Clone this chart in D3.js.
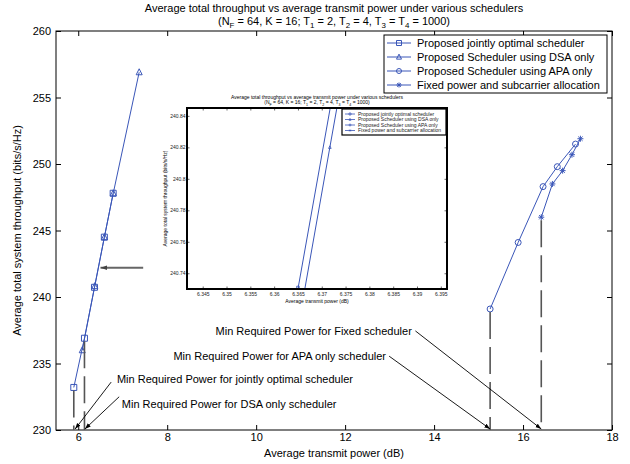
<!DOCTYPE html>
<html><head><meta charset="utf-8">
<script src="https://cdn.jsdelivr.net/npm/d3@7"></script>
<style>body{margin:0;background:#fff}svg{display:block;font-family:Arial,"Liberation Sans",sans-serif}</style>
</head><body><svg id="c" width="630" height="464"></svg>
<script>
// ---------- DATA ----------
const seriesNames = ["Proposed jointly optimal scheduler","Proposed Scheduler using DSA only","Proposed Scheduler using APA only","Fixed power and subcarrier allocation"];
const seriesMarkers = ["square","triangle","circle","star"];
const jointX = [5.90, 6.14, 6.365, 6.587, 6.785];
const jointY = [233.2, 236.9, 240.73, 244.5, 247.8];
const dsaX = [6.09, 6.3717, 6.588, 6.787, 7.37];
const dsaY = [236.0, 240.82, 244.5, 247.8, 256.9];
const apaX = [15.26, 15.89, 16.45, 16.77, 17.18];
const apaY = [239.1, 244.1, 248.3, 249.8, 251.5];
const fixedX = [16.41, 16.66, 16.89, 17.10, 17.29];
const fixedY = [246.0, 248.5, 249.5, 250.7, 251.9];
const xTicks = [6, 8, 10, 12, 14, 16, 18];
const yTicks = [230, 235, 240, 245, 250, 255, 260];
const insetXTicks = [6.345, 6.35, 6.355, 6.36, 6.365, 6.37, 6.375, 6.38, 6.385, 6.39, 6.395];
const insetYTicks = [240.74, 240.76, 240.78, 240.8, 240.82, 240.84];
// min required power markers (dashed drops) : x value, y value of the point
const minPowX = [5.90, 6.14, 15.26, 16.41];
const minPowY = [233.2, 236.9, 239.1, 246.0];
const annTexts = ["Min Required Power for Fixed scheduler","Min Required Power for APA only scheduler","Min Required Power for jointly optimal scheduler","Min Required Power for DSA only scheduler"];
const annTextX = [13.50, 12.92, 6.87, 6.98];
const annTextY = [237.15, 235.3, 233.55, 231.65];
const annAnchor = ["end","end","start","start"];
const annFromX = [13.58, 12.99, 6.74, 6.92];
const annFromY = [237.45, 235.55, 233.6, 232.5];
const annToX = [16.41, 15.26, 5.93, 6.15];

// ---------- LAYOUT ----------
const svg = d3.select("#c");
const M = {l:56, r:612, t:31, b:430};
const x = d3.scaleLinear().domain([5.5, 18]).range([M.l, M.r]);
const y = d3.scaleLinear().domain([230, 260]).range([M.b, M.t]);
const BLUE = "#3a56b8";
const series = [
  {x: jointX, y: jointY}, {x: dsaX, y: dsaY}, {x: apaX, y: apaY}, {x: fixedX, y: fixedY}
].map((s,i)=>({name: seriesNames[i], marker: seriesMarkers[i], pts: s.x.map((v,j)=>[v, s.y[j]])}));

const defs = svg.append("defs");
defs.append("marker").attr("id","ah").attr("viewBox","0 0 10 10").attr("refX",10).attr("refY",5)
  .attr("markerWidth",6).attr("markerHeight",6).attr("markerUnits","userSpaceOnUse").attr("orient","auto")
  .append("path").attr("d","M0,1.5L10,5L0,8.5Z").attr("fill","#000");
defs.append("marker").attr("id","ahg").attr("viewBox","0 0 10 10").attr("refX",10).attr("refY",5)
  .attr("markerWidth",7).attr("markerHeight",7).attr("markerUnits","userSpaceOnUse").attr("orient","auto")
  .append("path").attr("d","M0,1.5L10,5L0,8.5Z").attr("fill","#444");

function markerPath(type, s){
  const h = s/2;
  if(type==="square") return `M${-h},${-h}H${h}V${h}H${-h}Z`;
  if(type==="triangle") return `M0,${-h*1.15}L${h},${h*0.85}L${-h},${h*0.85}Z`;
  if(type==="circle") return `M${-h},0A${h},${h} 0 1,0 ${h},0A${h},${h} 0 1,0 ${-h},0Z`;
  const d = h*0.72;
  return `M${-h},0H${h}M0,${-h}V${h}M${-d},${-d}L${d},${d}M${-d},${d}L${d},${-d}`;
}
function drawMarker(g, type, px, py, s, sw){
  g.append("path").attr("transform",`translate(${px},${py})`).attr("d", markerPath(type, s))
    .attr("fill","none").attr("stroke",BLUE).attr("stroke-width",sw);
}

// ---------- TITLE ----------
const tcx = (M.l+M.r)/2;
svg.append("text").attr("x",tcx).attr("y",12).attr("text-anchor","middle").attr("font-size",11)
  .text("Average total throughput vs average transmit power under various schedulers");
function subTitle(g, cx, cy, fs){
  const t = g.append("text").attr("x",cx).attr("y",cy).attr("text-anchor","middle").attr("font-size",fs);
  const parts = [["(N",0],["F",1],[" = 64, K = 16; T",0],["1",1],[" = 2, T",0],["2",1],[" = 4, T",0],["3",1],[" = T",0],["4",1],[" = 1000)",0]];
  let prev = 0;
  parts.forEach(([s,sub])=>{
    const ts = t.append("tspan").text(s);
    const dy = (sub?1:0) - prev;
    if(dy!==0) ts.attr("dy", (dy*fs*0.3).toFixed(2));
    if(sub) ts.attr("font-size", fs*0.72);
    prev = sub?1:0;
  });
}
subTitle(svg, tcx, 25, 11);

// ---------- MAIN AXES ----------
svg.append("rect").attr("x",M.l).attr("y",M.t).attr("width",M.r-M.l).attr("height",M.b-M.t)
  .attr("fill","#fff").attr("stroke","#000").attr("stroke-width",1);
const ax = svg.append("g").attr("font-size",11);
function axisG(gen, tx, ty){
  const g = ax.append("g").attr("transform",`translate(${tx},${ty})`).call(gen);
  g.select(".domain").remove();
  g.selectAll("text").attr("font-family","Arial, Liberation Sans, sans-serif").attr("font-size",11).attr("fill","#000");
  g.selectAll("line").attr("stroke","#000");
  return g;
}
axisG(d3.axisBottom(x).tickValues(xTicks).tickSizeInner(-5).tickSizeOuter(0).tickPadding(3).tickFormat(d3.format("d")), 0, M.b);
axisG(d3.axisTop(x).tickValues(xTicks).tickSizeInner(-5).tickSizeOuter(0).tickFormat(""), 0, M.t);
axisG(d3.axisLeft(y).tickValues(yTicks).tickSizeInner(-5).tickSizeOuter(0).tickPadding(5).tickFormat(d3.format("d")), M.l, 0);
axisG(d3.axisRight(y).tickValues(yTicks).tickSizeInner(-5).tickSizeOuter(0).tickFormat(""), M.r, 0);

svg.append("text").attr("x",tcx).attr("y",457).attr("text-anchor","middle").attr("font-size",11)
  .text("Average transmit power (dB)");
svg.append("text").attr("transform",`translate(21,${(M.t+M.b)/2}) rotate(-90)`).attr("text-anchor","middle").attr("font-size",11)
  .text("Average total system throughput (bits/s/Hz)");

// ---------- MAIN DATA ----------
const line = d3.line().x(d=>x(d[0])).y(d=>y(d[1]));
const dg = svg.append("g");
series.forEach(s=>{
  dg.append("path").attr("d", line(s.pts)).attr("fill","none").attr("stroke",BLUE).attr("stroke-width",1);
});
series.forEach(s=>{
  s.pts.forEach(p=>drawMarker(dg, s.marker, x(p[0]), y(p[1]), 6, 1));
});

// ---------- ANNOTATIONS ----------
const an = svg.append("g");
minPowX.forEach((v,i)=>{
  an.append("line").attr("x1",x(v)).attr("x2",x(v)).attr("y1",y(minPowY[i])+3).attr("y2",M.b)
    .attr("stroke","#555").attr("stroke-width",1.6).attr("stroke-dasharray","27,8");
});
annTexts.forEach((t,i)=>{
  an.append("text").attr("x",x(annTextX[i])).attr("y",y(annTextY[i])).attr("text-anchor",annAnchor[i])
    .attr("font-size",11).text(t);
  an.append("line").attr("x1",x(annFromX[i])).attr("y1",y(annFromY[i])).attr("x2",x(annToX[i])).attr("y2",M.b-1)
    .attr("stroke","#000").attr("stroke-width",0.9).attr("marker-end","url(#ah)");
});
an.append("line").attr("x1",x(7.46)).attr("x2",x(6.50)).attr("y1",y(242.2)).attr("y2",y(242.2))
  .attr("stroke","#666").attr("stroke-width",2).attr("marker-end","url(#ahg)");

// ---------- MAIN LEGEND ----------
const L = {x0:384, x1:607, y0:35, y1:93, rowY:[43,57,71,85]};
const lg = svg.append("g");
lg.append("rect").attr("x",L.x0).attr("y",L.y0).attr("width",L.x1-L.x0).attr("height",L.y1-L.y0)
  .attr("fill","#fff").attr("stroke","#000").attr("stroke-width",1);
series.forEach((s,i)=>{
  const yy = L.rowY[i];
  lg.append("line").attr("x1",L.x0+3).attr("x2",L.x0+27).attr("y1",yy).attr("y2",yy).attr("stroke",BLUE);
  drawMarker(lg, s.marker, L.x0+15, yy, 5, 1);
  lg.append("text").attr("x",L.x0+33).attr("y",yy+4).attr("font-size",11).text(s.name);
});

// ---------- INSET ----------
const I = {l:187, r:447, t:108, b:289};
const xi = d3.scaleLinear().domain([6.3417, 6.3963]).range([I.l, I.r]);
const yi = d3.scaleLinear().domain([240.73, 240.845]).range([I.b, I.t]);
const ig = svg.append("g");
ig.append("rect").attr("x",I.l).attr("y",I.t).attr("width",I.r-I.l).attr("height",I.b-I.t).attr("fill","#fff");
defs.append("clipPath").attr("id","iclip").append("rect").attr("x",I.l).attr("y",I.t).attr("width",I.r-I.l).attr("height",I.b-I.t);
const fsI = 5;
function axisI(gen, tx, ty){
  const g = ig.append("g").attr("transform",`translate(${tx},${ty})`).call(gen);
  g.select(".domain").remove();
  g.selectAll("text").attr("font-size",fsI).attr("fill","#222");
  g.selectAll("line").attr("stroke","#000").attr("stroke-width",0.6);
  return g;
}
axisI(d3.axisBottom(xi).tickValues(insetXTicks).tickSizeInner(-2.5).tickSizeOuter(0).tickPadding(3.5).tickFormat(d=>+d.toFixed(3)+""), 0, I.b);
axisI(d3.axisTop(xi).tickValues(insetXTicks).tickSizeInner(-2.5).tickSizeOuter(0).tickFormat(""), 0, I.t);
axisI(d3.axisLeft(yi).tickValues(insetYTicks).tickSizeInner(-2.5).tickSizeOuter(0).tickPadding(1.5).tickFormat(d=>+d.toFixed(2)+""), I.l, 0);
axisI(d3.axisRight(yi).tickValues(insetYTicks).tickSizeInner(-2.5).tickSizeOuter(0).tickFormat(""), I.r, 0);
const lineI = d3.line().x(d=>xi(d[0])).y(d=>yi(d[1]));
const idg = ig.append("g").attr("clip-path","url(#iclip)");
series.forEach(s=>{
  idg.append("path").attr("d", lineI(s.pts)).attr("fill","none").attr("stroke",BLUE).attr("stroke-width",1);
});
series.forEach(s=>{
  s.pts.forEach(p=>{
    if(p[0]>=6.3417 && p[0]<=6.3963 && p[1]>=240.725 && p[1]<=240.845)
      drawMarker(ig, s.marker, xi(p[0]), Math.min(yi(p[1]), I.b-1.5), 2.6, 0.8);
  });
});
ig.append("rect").attr("x",I.l).attr("y",I.t).attr("width",I.r-I.l).attr("height",I.b-I.t)
  .attr("fill","none").attr("stroke","#000").attr("stroke-width",2);
ig.append("text").attr("x",(I.l+I.r)/2).attr("y",I.t-8.7).attr("text-anchor","middle").attr("font-size",fsI)
  .text("Average total throughput vs average transmit power under various schedulers");
subTitle(ig, (I.l+I.r)/2, I.t-3.6, fsI);
ig.append("text").attr("x",(I.l+I.r)/2).attr("y",I.b+14).attr("text-anchor","middle").attr("font-size",fsI)
  .text("Average transmit power (dB)");
ig.append("text").attr("transform",`translate(${I.l-20},${(I.t+I.b)/2}) rotate(-90)`).attr("text-anchor","middle").attr("font-size",fsI)
  .text("Average total system throughput (bits/s/Hz)");
const IL = {x0:342, x1:446, y0:109, y1:135, rowY:[114,119.5,125,130.5]};
ig.append("rect").attr("x",IL.x0).attr("y",IL.y0).attr("width",IL.x1-IL.x0).attr("height",IL.y1-IL.y0)
  .attr("fill","#fff").attr("stroke","#000").attr("stroke-width",1.2);
series.forEach((s,i)=>{
  const yy = IL.rowY[i];
  ig.append("line").attr("x1",IL.x0+3).attr("x2",IL.x0+13).attr("y1",yy).attr("y2",yy).attr("stroke",BLUE).attr("stroke-width",0.8);
  drawMarker(ig, s.marker, IL.x0+8, yy, 2, 0.7);
  ig.append("text").attr("x",IL.x0+16).attr("y",yy+1.7).attr("font-size",fsI).attr("fill","#222").text(s.name);
});
</script></body></html>
